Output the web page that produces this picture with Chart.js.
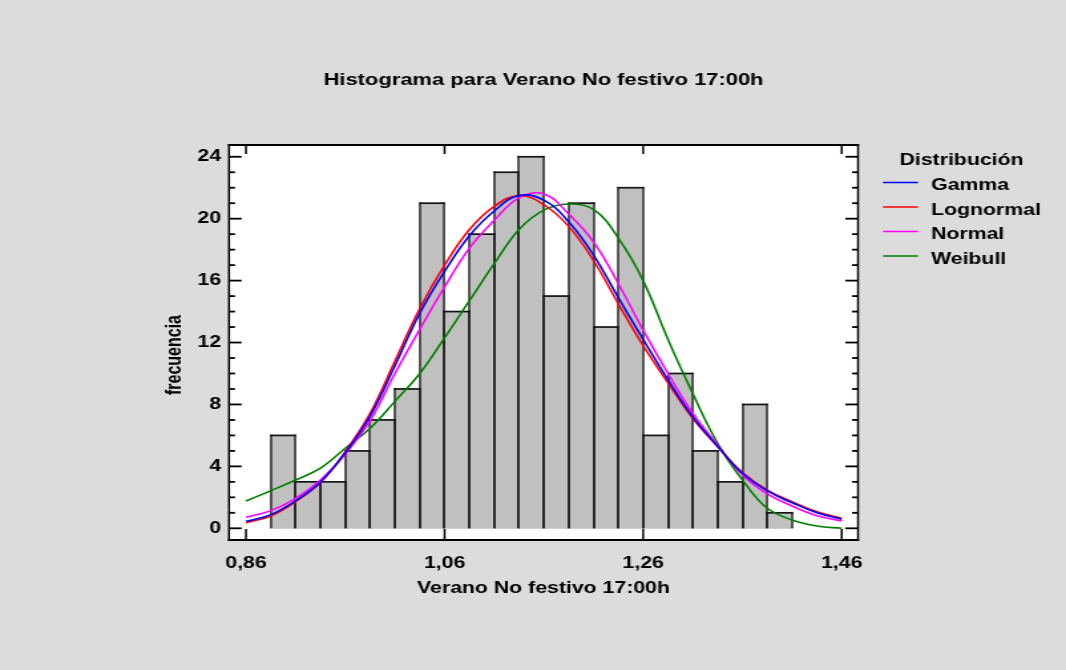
<!DOCTYPE html>
<html>
<head>
<meta charset="utf-8">
<script src="https://cdn.jsdelivr.net/npm/chart.js@4.4.1/dist/chart.umd.min.js"></script>
<style>
  html, body { margin: 0; padding: 0; background: #dcdcdc; overflow: hidden; }
  /* the reference is drawn stretched sideways, so the canvas is too */
  #wrap { width: 802px; height: 670px; transform: scaleX(1.3292); transform-origin: 0 0; }
</style>
</head>
<body>
<div id="wrap"><canvas id="histCanvas" width="802" height="670"></canvas></div>
<script>
// histogram bins (centres, width 0.025) and counts
const binCenters = [0.8975, 0.9225, 0.9475, 0.9725, 0.9975, 1.0225, 1.0475, 1.0725, 1.0975, 1.1225, 1.1475,
  1.1725, 1.1975, 1.2225, 1.2475, 1.2725, 1.2975, 1.3225, 1.3475, 1.3725, 1.3975];
const frequencies = [6, 3, 3, 5, 7, 9, 21, 14, 19, 23, 24, 15, 21, 13, 22, 6, 10, 5, 3, 8, 1];

// fitted curves
const curveX = [0.86, 0.885, 0.91, 0.935, 0.96, 0.985, 1.01, 1.035, 1.06, 1.085, 1.11, 1.135, 1.16,
  1.185, 1.21, 1.235, 1.26, 1.285, 1.31, 1.335, 1.36, 1.385, 1.41, 1.435, 1.46];
const gamma = [0.45, 0.88, 1.78, 2.99, 4.88, 7.25, 10.5, 13.9, 16.6, 18.9, 20.5, 21.5, 21.2,
  19.8, 17.65, 14.9, 12.2, 9.6, 7.2, 5.3, 3.55, 2.41, 1.65, 1.0, 0.58];
const lognormal = [0.36, 0.79, 1.72, 2.95, 4.95, 7.43, 10.8, 14.2, 17.0, 19.3, 20.8, 21.5, 20.9,
  19.5, 17.3, 14.5, 11.8, 9.4, 7.1, 5.27, 3.6, 2.47, 1.72, 1.07, 0.65];
const normal = [0.71, 1.14, 1.94, 3.12, 4.8, 6.95, 10.0, 12.85, 15.6, 18.1, 19.9, 21.35, 21.6,
  20.3, 18.5, 15.8, 12.8, 10.0, 7.43, 5.38, 3.44, 2.22, 1.44, 0.81, 0.47];
const weibull = [1.76, 2.43, 3.12, 3.88, 5.17, 6.46, 8.2, 10.0, 12.3, 14.7, 17.1, 19.3, 20.55,
  20.95, 20.6, 18.75, 16.0, 12.2, 8.7, 5.49, 3.12, 1.29, 0.54, 0.15, 0.0];

const xTicks = [0.86, 1.06, 1.26, 1.46];
const yTicks = [0, 4, 8, 12, 16, 20, 24];

const S = 1066 / 802;
const FONT = {family: '"Liberation Sans", Arial, sans-serif', size: 16, weight: 'bold'};
Chart.defaults.font.family = FONT.family;
Chart.defaults.color = '#000';

function pairs(ys) {
  return curveX.map((x, i) => ({x: x, y: ys[i]}));
}
function lineSet(label, ys, color) {
  return {type: 'line', label: label, data: pairs(ys), borderColor: color, borderWidth: 1.6,
    pointRadius: 0, tension: 0.4, fill: false, order: 1};
}

const framePlugin = {
  id: 'frame',
  beforeDraw(chart) {
    const {ctx, chartArea: a} = chart;
    ctx.save();
    ctx.fillStyle = '#dcdcdc';
    ctx.fillRect(0, 0, chart.width, chart.height);
    ctx.fillStyle = '#ffffff';
    ctx.fillRect(a.left, a.top, a.right - a.left, a.bottom - a.top);
    ctx.restore();
  },
  // crisp outlines for the bars, before the curves go on top
  afterDatasetDraw(chart, args) {
    if (chart.data.datasets[args.index].type !== 'bar') return;
    const ctx = chart.ctx;
    ctx.save();
    ctx.fillStyle = '#141414';
    args.meta.data.forEach(bar => {
      const l = Math.round(bar.x - bar.width / 2);
      const r = Math.round(bar.x + bar.width / 2);
      ctx.fillRect(l - 0.65, bar.y - 0.85, 1.3, bar.base - bar.y + 0.85);
      ctx.fillRect(r - 0.65, bar.y - 0.85, 1.3, bar.base - bar.y + 0.85);
      ctx.fillRect(l - 0.65, bar.y - 0.85, r - l + 1.3, 1.7);
    });
    ctx.restore();
  },
  afterDraw(chart) {
    const {ctx, chartArea: a} = chart;
    const x = chart.scales.x, y = chart.scales.y;
    ctx.save();
    ctx.fillStyle = '#000';
    // plot border
    ctx.fillRect(a.left - 0.75, a.top - 1, a.right - a.left + 1.5, 2);
    ctx.fillRect(a.left - 0.75, a.bottom - 1, a.right - a.left + 1.5, 2);
    ctx.fillRect(a.left - 0.75, a.top - 1, 1.5, a.bottom - a.top + 2);
    ctx.fillRect(a.right - 0.75, a.top - 1, 1.5, a.bottom - a.top + 2);
    // inner tick marks
    xTicks.forEach(v => {
      const p = x.getPixelForValue(v);
      ctx.fillRect(p - 0.75, a.bottom - 11, 1.5, 11);
      ctx.fillRect(p - 0.75, a.top, 1.5, 9);
    });
    for (let v = 0; v <= 24; v++) {
      const p = y.getPixelForValue(v);
      const len = v % 4 === 0 ? 9.5 : 4.5;
      ctx.fillRect(a.left, p - 0.9, len, 1.8);
      ctx.fillRect(a.right - len, p - 0.9, len, 1.8);
    }
    // y title
    ctx.font = 'bold 16px ' + FONT.family;
    ctx.textAlign = 'center';
    ctx.textBaseline = 'middle';
    ctx.translate(175 / S, 355);
    ctx.rotate(-Math.PI / 2);
    ctx.fillText('frecuencia', 0, 0);
    ctx.restore();

    // legend
    ctx.save();
    ctx.font = 'bold 16px ' + FONT.family;
    ctx.textBaseline = 'middle';
    ctx.textAlign = 'center';
    ctx.fillStyle = '#000';
    ctx.fillText('Distribución', 961.5 / S, 161);
    ctx.textAlign = 'left';
    const lines = chart.data.datasets.filter(d => d.type === 'line');
    lines.forEach((d, i) => {
      const ly = 182.5 + i * 24.5;
      ctx.strokeStyle = d.borderColor;
      ctx.lineWidth = 1.5;
      ctx.beginPath();
      ctx.moveTo(883 / S, ly);
      ctx.lineTo(918 / S, ly);
      ctx.stroke();
      ctx.fillText(d.label, 931 / S, ly + 3.5);
    });
    ctx.restore();
  }
};

const ctx = document.getElementById('histCanvas').getContext('2d');
const chart = new Chart(ctx, {
  data: {
    datasets: [
      lineSet('Gamma', gamma, '#0000ff'),
      lineSet('Lognormal', lognormal, '#ff0000'),
      lineSet('Normal', normal, '#ff00ff'),
      lineSet('Weibull', weibull, '#008000'),
      {
        type: 'bar',
        label: 'frecuencia',
        data: binCenters.map((c, i) => ({x: c, y: frequencies[i]})),
        backgroundColor: '#c0c0c0',
        borderWidth: 0,
        inflateAmount: 0.5,
        barPercentage: 1,
        categoryPercentage: 1,
        order: 5
      }
    ]
  },
  options: {
    responsive: false,
    animation: false,
    events: [],
    layout: {padding: {left: 0, right: 156.5, top: 0, bottom: 0}},
    plugins: {
      legend: {display: false},
      tooltip: {enabled: false},
      title: {
        display: true,
        fullSize: false,
        text: 'Histograma para Verano No festivo 17:00h',
        font: {family: FONT.family, size: 16.5, weight: 'bold'},
        color: '#000',
        padding: {top: 71, bottom: 54.2}
      }
    },
    scales: {
      x: {
        type: 'linear',
        position: 'bottom',
        offset: false,
        min: 0.8429,
        max: 1.4764,
        grid: {display: false, drawTicks: false, offset: false},
        border: {display: false},
        afterBuildTicks: s => { s.ticks = xTicks.map(v => ({value: v})); },
        afterFit: s => { s.height = 130; },
        ticks: {
          font: FONT,
          padding: 14,
          maxRotation: 0,
          autoSkip: false,
          callback: v => v.toFixed(2).replace('.', ',')
        },
        title: {
          display: true,
          text: 'Verano No festivo 17:00h',
          font: FONT,
          color: '#000',
          padding: {top: 0, bottom: 71.4}
        }
      },
      y: {
        type: 'linear',
        min: -0.756,
        max: 24.76,
        grid: {display: false, drawTicks: false},
        border: {display: false},
        afterBuildTicks: s => { s.ticks = yTicks.map(v => ({value: v})); },
        afterFit: s => { s.width = 229 / S; },
        ticks: {font: FONT, padding: 6}
      }
    }
  },
  plugins: [framePlugin]
});
</script>
</body>
</html>
